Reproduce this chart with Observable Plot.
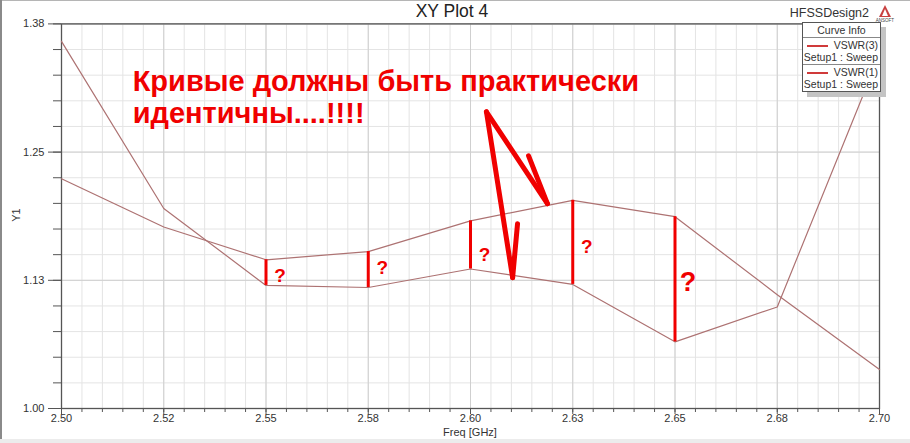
<!DOCTYPE html>
<html>
<head>
<meta charset="utf-8">
<script src="https://cdn.jsdelivr.net/npm/d3@7"></script>
<script src="https://cdn.jsdelivr.net/npm/@observablehq/plot@0.6"></script>
<style>
  html, body { margin: 0; padding: 0; background: #fff; }
  #wrap { position: relative; width: 910px; height: 443px; overflow: hidden; background: #fff;
          font-family: "Liberation Sans", Arial, sans-serif; }
  #chart { position: absolute; left: 0; top: 0; }
  .ov { position: absolute; white-space: nowrap; color: #222; }
  #legend { position: absolute; left: 802px; top: 22px; width: 77px; height: 68px; background: #fff;
            border: 1px solid #555; box-shadow: 5px 5px 0 #c4c4c4; font-size: 10.5px; color: #333; }
  #legend .hd { text-align: center; height: 14px; line-height: 15px; border-bottom: 1px solid #888; }
  #legend .en { position: relative; height: 26px; border-bottom: 1px solid #888; }
  #legend .en:last-child { border-bottom: none; }
  #legend .sw { position: absolute; left: 4px; top: 7px; width: 21px; height: 2px; background: #d03a3a; }
  #legend .n1 { position: absolute; right: 2px; top: 1px; }
  #legend .n2 { position: absolute; right: 2px; top: 13px; }
</style>
</head>
<body>
<div id="wrap">
  <div id="chart"></div>
  <div class="ov" style="left:0;top:0;width:910px;height:1px;background:#b5b5b5"></div>
  <div class="ov" style="left:0;top:0;width:2px;height:443px;background:#8a8a8a"></div>
  <div class="ov" style="left:0;top:439px;width:910px;height:4px;background:#ececec"></div>
  <div class="ov" style="left:0;top:1px;width:904px;text-align:center;font-size:17.5px;color:#222">XY Plot 4</div>
  <div class="ov" style="right:41px;top:6px;font-size:12.5px;color:#333">HFSSDesign2</div>
  <svg class="ov" style="left:874px;top:4px" width="22" height="20" viewBox="0 0 22 20">
    <polygon points="11,1 17,13 5,13" fill="#c84040"/>
    <polygon points="11,5 14,12 8,12" fill="#fff"/>
    <text x="11" y="18" font-size="4.5" text-anchor="middle" fill="#444" font-family="Liberation Sans, Arial">ANSOFT</text>
  </svg>
  <div class="ov" style="left:16px;top:215px;font-size:11px;color:#333;transform:translate(-50%,-50%) rotate(-90deg);transform-origin:center">Y1</div>
  <div class="ov" style="left:470px;top:426px;font-size:11px;color:#333;transform:translateX(-50%)">Freq [GHz]</div>
  <div id="legend">
    <div class="hd">Curve Info</div>
    <div class="en"><div class="sw"></div><div class="n1">VSWR(3)</div><div class="n2">Setup1 : Sweep</div></div>
    <div class="en"><div class="sw"></div><div class="n1">VSWR(1)</div><div class="n2">Setup1 : Sweep</div></div>
  </div>
</div>
<script>
// ---- data ----
const freqs = [2.5, 2.525, 2.55, 2.575, 2.6, 2.625, 2.65, 2.675, 2.7];
const vswrA = [1.358, 1.195, 1.120, 1.118, 1.136, 1.121, 1.065, 1.099, 1.345];
const vswrB = [1.224, 1.177, 1.145, 1.153, 1.183, 1.203, 1.187, 1.111, 1.038];

const xTicks = [2.5, 2.525, 2.55, 2.575, 2.6, 2.625, 2.65, 2.675, 2.7];
const xTickLabels = ["2.50", "2.52", "2.55", "2.58", "2.60", "2.63", "2.65", "2.68", "2.70"];
const yTicks = [1.0, 1.125, 1.25, 1.375];
const yTickLabels = ["1.00", "1.13", "1.25", "1.38"];

// annotation: indices of the frequencies marked with red bars and "?"
const markedIdx = [2, 3, 4, 5, 6];
const qMarkY = [1.1295, 1.1373, 1.150, 1.1578, 1.1227];

const noteText = "Кривые должны быть практически\nидентичны....!!!!";
const noteX = 2.5174, noteY = 1.3317;

const arrowX1 = [2.6039, 2.6039, 2.6142, 2.6115];
const arrowY1 = [1.2893, 1.2893, 1.2464, 1.1802];
const arrowX2 = [2.6188, 2.6103, 2.6188, 2.6103];
const arrowY2 = [1.1997, 1.1276, 1.1997, 1.1276];

// ---- build ----
const rowsA = freqs.map((f, i) => ({f, v: vswrA[i]}));
const rowsB = freqs.map((f, i) => ({f, v: vswrB[i]}));
const bars = markedIdx.map((i, k) => ({f: freqs[i], lo: vswrA[i], hi: vswrB[i], qy: qMarkY[k], big: k === markedIdx.length - 1}));
const arrows = arrowX1.map((x1, i) => ({x1, y1: arrowY1[i], x2: arrowX2[i], y2: arrowY2[i]}));

const xMinor = d3.range(0, 41).map(i => +(2.5 + i * 0.005).toFixed(3));
const yMinor = d3.range(0, 16).map(i => +(1 + i * 0.025).toFixed(3));

const lineColor = "#ad7272";
const red = "#f00000";

const chart = Plot.plot({
  width: 910,
  height: 443,
  marginLeft: 61,
  marginRight: 31,
  marginTop: 23.4,
  marginBottom: 35,
  style: {background: "transparent", fontFamily: "Liberation Sans, Arial, sans-serif"},
  x: {domain: [2.5, 2.7]},
  y: {domain: [1.0, 1.375]},
  marks: [
    Plot.gridX(xMinor, {stroke: "#e4e4e4", strokeOpacity: 1}),
    Plot.gridY(yMinor, {stroke: "#e4e4e4", strokeOpacity: 1}),
    Plot.gridX(xTicks, {stroke: "#cfcfcf", strokeOpacity: 1}),
    Plot.gridY(yTicks, {stroke: "#cfcfcf", strokeOpacity: 1}),
    Plot.axisY(yMinor, {tickSize: 8, tickFormat: () => "", stroke: "#555", label: null}),
    Plot.axisY(yTicks, {tickSize: 13, tickPadding: 4, tickFormat: d => yTickLabels[yTicks.indexOf(d)],
                        fontSize: 11, fill: "#333", stroke: "#555", label: null}),
    Plot.axisX(xMinor, {tickSize: 4, tickFormat: () => "", stroke: "#555", label: null}),
    Plot.axisX(xTicks, {tickSize: 6, tickPadding: 0, tickFormat: d => xTickLabels[xTicks.indexOf(d)],
                        fontSize: 11, fill: "#333", stroke: "#555", label: null}),
    Plot.frame({stroke: "#555", strokeWidth: 1.3}),
    Plot.line(rowsA, {x: "f", y: "v", stroke: lineColor, strokeWidth: 1.2}),
    Plot.line(rowsB, {x: "f", y: "v", stroke: lineColor, strokeWidth: 1.2}),
    Plot.ruleX(bars, {x: "f", y1: "lo", y2: "hi", stroke: red, strokeWidth: 3}),
    Plot.text(bars.filter(d => !d.big), {x: "f", y: "qy", text: () => "?", dx: 14, fill: red,
                        fontSize: 19, fontWeight: "bold"}),
    Plot.text(bars.filter(d => d.big), {x: "f", y: "qy", text: () => "?", dx: 13, fill: red,
                        fontSize: 27, fontWeight: "bold"}),
    Plot.link(arrows, {x1: "x1", y1: "y1", x2: "x2", y2: "y2", stroke: red, strokeWidth: 5,
                       strokeLinecap: "round"}),
    Plot.text([noteText], {x: () => noteX, y: () => noteY, text: d => d, textAnchor: "start",
                           lineAnchor: "top", lineHeight: 1.1, fill: red, fontSize: 29, fontWeight: "bold"})
  ]
});
document.getElementById("chart").appendChild(chart);
</script>
</body>
</html>
